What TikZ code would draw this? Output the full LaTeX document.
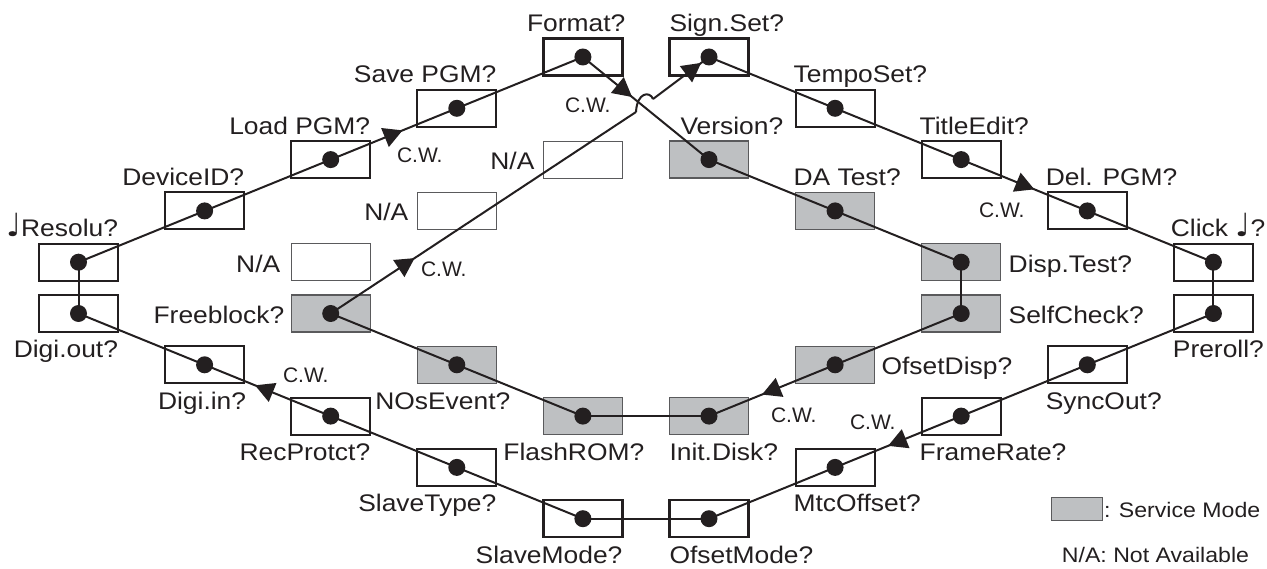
\documentclass[tikz,border=0pt]{standalone}
\usepackage{fontspec}
\setmainfont{Liberation Sans}[FakeStretch=1.1]
\newfontfamily\cwfont{Liberation Sans}
\newfontfamily\notefont{DejaVu Sans}
\usetikzlibrary{arrows.meta,decorations.markings}
\definecolor{svcgray}{RGB}{190,192,194}
\definecolor{ink}{RGB}{35,31,32}
\definecolor{svcedge}{RGB}{90,90,92}
\newcommand{\qnote}{{\notefont\fontsize{32}{32}\selectfont ♩}}
\begin{document}
\begin{tikzpicture}[x=1pt,y=-1pt,
  nbox/.style={draw=ink, line width=2.2pt, minimum width=79pt, minimum height=37pt, inner sep=0pt, outer sep=0pt},
  svc/.style={draw=svcedge, fill=svcgray, line width=1.3pt, minimum width=79pt, minimum height=37pt, inner sep=0pt, outer sep=0pt},
  nabox/.style={draw=svcedge, line width=1pt, minimum width=79pt, minimum height=37pt, inner sep=0pt, outer sep=0pt},
  lbl/.style={inner sep=0pt, outer sep=0pt, text=ink, font=\fontsize{24}{28}\selectfont},
  cw/.style={inner sep=0pt, outer sep=0pt, text=ink, anchor=base west, font=\cwfont\fontsize{21}{24}\selectfont},
  leg/.style={inner sep=0pt, outer sep=0pt, text=ink, font=\fontsize{21}{24}\selectfont},
  conn/.style={draw=ink, line width=2pt},
  arr/.style={postaction={decorate}, decoration={markings, mark=at position #1 with {\arrow{Triangle[length=19pt,width=20pt]}}}}
]
\useasboundingbox (0,0) rectangle (1267,569);

% ---------- boxes ----------
\node[nbox] (res)   at (78.5,262.2) {};
\node[nbox] (dout)  at (78.5,313.5) {};
\node[nbox] (dev)   at (204.6,210.9) {};
\node[nbox] (din)   at (204.6,364.8) {};
\node[nbox] (load)  at (330.7,159.6) {};
\node[nabox] (na3)  at (330.7,262.2) {};
\node[svc]  (free)  at (330.7,313.5) {};
\node[nbox] (rec)   at (330.7,416.1) {};
\node[nbox] (save)  at (456.8,108.3) {};
\node[nabox] (na2)  at (456.8,210.9) {};
\node[svc]  (nos)   at (456.8,364.8) {};
\node[nbox] (stype) at (456.8,467.4) {};
\node[nbox] (fmt)   at (582.9,57) {};
\node[nabox] (na1)  at (582.9,159.6) {};
\node[svc]  (flash) at (582.9,416.1) {};
\node[nbox] (smode) at (582.9,518.7) {};
\node[nbox] (sign)  at (709.0,57) {};
\node[svc]  (ver)   at (709.0,159.6) {};
\node[svc]  (init)  at (709.0,416.1) {};
\node[nbox] (omode) at (709.0,518.7) {};
\node[nbox] (tempo) at (835.1,108.3) {};
\node[svc]  (da)    at (835.1,210.9) {};
\node[svc]  (odisp) at (835.1,364.8) {};
\node[nbox] (mtc)   at (835.1,467.4) {};
\node[nbox] (title) at (961.2,159.6) {};
\node[svc]  (disp)  at (961.2,262.2) {};
\node[svc]  (self)  at (961.2,313.5) {};
\node[nbox] (frame) at (961.2,416.1) {};
\node[nbox] (del)   at (1087.3,210.9) {};
\node[nbox] (sync)  at (1087.3,364.8) {};
\node[nbox] (click) at (1213.4,262.2) {};
\node[nbox] (pre)   at (1213.4,313.5) {};

% ---------- labels ----------
% above, right aligned
\node[lbl, anchor=base east] (lres)  at ([yshift=7pt]res.north east) {\qnote Resolu?};
\node[lbl, anchor=base east] (ldev)  at ([yshift=7pt]dev.north east) {DeviceID?};
\node[lbl, anchor=base east] (lload) at ([yshift=7pt]load.north east) {Load PGM?};
\node[lbl, anchor=base east] (lsave) at ([yshift=7pt]save.north east) {Save PGM?};
\node[lbl, anchor=base east] (lfmt)  at ([xshift=3pt,yshift=7pt]fmt.north east) {Format?};
% above, left aligned
\node[lbl, anchor=base west] (lsign)  at ([yshift=7pt]sign.north west) {Sign.Set?};
\node[lbl, anchor=base west] (lver)   at ([xshift=11pt,yshift=7pt]ver.north west) {Version?};
\node[lbl, anchor=base west] (ltempo) at ([xshift=-2pt,yshift=7pt]tempo.north west) {TempoSet?};
\node[lbl, anchor=base west] (lda)    at ([xshift=-2pt,yshift=7pt]da.north west) {DA Test?};
\node[lbl, anchor=base west] (ltitle) at ([xshift=-2pt,yshift=7pt]title.north west) {TitleEdit?};
\node[lbl, anchor=base west] (ldel)   at ([xshift=-2pt,yshift=7pt]del.north west) {Del. PGM?};
\node[lbl, anchor=base west] (lclick) at ([xshift=-3pt,yshift=7pt]click.north west) {Click \qnote?};
% below, right aligned
\node[lbl, anchor=base east] (ldout)  at ([yshift=-26pt]dout.south east) {Digi.out?};
\node[lbl, anchor=base east] (ldin)   at ([xshift=2pt,yshift=-26pt]din.south east) {Digi.in?};
\node[lbl, anchor=base east] (lrec)   at ([yshift=-26pt]rec.south east) {RecProtct?};
\node[lbl, anchor=base east] (lstype) at ([yshift=-26pt]stype.south east) {SlaveType?};
\node[lbl, anchor=base east] (lsmode) at ([yshift=-26pt]smode.south east) {SlaveMode?};
\node[lbl, anchor=base west] (lnos)   at ([xshift=-42pt,yshift=-26pt]nos.south west) {NOsEvent?};
\node[lbl, anchor=base west] (lflash) at ([xshift=-40pt,yshift=-26pt]flash.south west) {FlashROM?};
% below, left aligned
\node[lbl, anchor=base west] (linit)  at ([yshift=-26pt]init.south west) {Init.Disk?};
\node[lbl, anchor=base west] (lomode) at ([yshift=-26pt]omode.south west) {OfsetMode?};
\node[lbl, anchor=base west] (lmtc)   at ([xshift=-2pt,yshift=-26pt]mtc.south west) {MtcOffset?};
\node[lbl, anchor=base west] (lframe) at ([xshift=-2pt,yshift=-26pt]frame.south west) {FrameRate?};
\node[lbl, anchor=base west] (lsync)  at ([xshift=-2pt,yshift=-26pt]sync.south west) {SyncOut?};
\node[lbl, anchor=base west] (lpre)   at ([xshift=-1pt,yshift=-26pt]pre.south west) {Preroll?};
% side labels
\node[lbl, anchor=base east] (lna1) at ([xshift=-9pt,yshift=-10pt]na1.west) {N/A};
\node[lbl, anchor=base east] (lna2) at ([xshift=-9pt,yshift=-10pt]na2.west) {N/A};
\node[lbl, anchor=base east] (lna3) at ([xshift=-11pt,yshift=-10pt]na3.west) {N/A};
\node[lbl, anchor=base east] (lfree) at ([xshift=-7pt,yshift=-10pt]free.west) {Freeblock?};
\node[lbl, anchor=base west] (ldisp) at ([xshift=8pt,yshift=-10pt]disp.east) {Disp.Test?};
\node[lbl, anchor=base west] (lself) at ([xshift=8pt,yshift=-10pt]self.east) {SelfCheck?};
\node[lbl, anchor=base west] (lodisp) at ([xshift=7pt,yshift=-10pt]odisp.east) {OfsetDisp?};

% C.W. labels
\node[cw] (cw1) at (397,163) {C.W.};
\node[cw] (cw2) at (565,113) {C.W.};
\node[cw] (cw3) at (421,277) {C.W.};
\node[cw] (cw4) at (979,218) {C.W.};
\node[cw] (cw5) at (771,422) {C.W.};
\node[cw] (cw6) at (850,429) {C.W.};
\node[cw] (cw7) at (283,382) {C.W.};

% ---------- connectors ----------
\coordinate (h1) at (636,112);
\coordinate (h2) at (653,99);
\draw[conn] (res.center) -- (dev.center);
\draw[conn] (dev.center) -- (load.center);
\draw[conn, arr=0.57] (load.center) -- (save.center);
\draw[conn] (save.center) -- (fmt.center);
\draw[conn, arr=0.39] (fmt.center) -- (ver.center);
\draw[conn] (ver.center) -- (da.center);
\draw[conn] (da.center) -- (disp.center);
\draw[conn] (disp.center) -- (self.center);
\draw[conn] (self.center) -- (odisp.center);
\draw[conn, arr=0.58] (odisp.center) -- (init.center);
\draw[conn] (init.center) -- (flash.center);
\draw[conn] (flash.center) -- (nos.center);
\draw[conn] (nos.center) -- (free.center);
\draw[conn, arr=0.275] (free.center) -- (h1);
\draw[conn] (h1) .. controls (637,92) and (650,91) .. (h2);
\draw[conn, arr=0.86] (h2) -- (sign.center);
\draw[conn] (sign.center) -- (tempo.center);
\draw[conn] (tempo.center) -- (title.center);
\draw[conn, arr=0.58] (title.center) -- (del.center);
\draw[conn] (del.center) -- (click.center);
\draw[conn] (click.center) -- (pre.center);
\draw[conn] (pre.center) -- (sync.center);
\draw[conn] (sync.center) -- (frame.center);
\draw[conn, arr=0.58] (frame.center) -- (mtc.center);
\draw[conn] (mtc.center) -- (omode.center);
\draw[conn] (omode.center) -- (smode.center);
\draw[conn] (smode.center) -- (stype.center);
\draw[conn] (stype.center) -- (rec.center);
\draw[conn, arr=0.6] (rec.center) -- (din.center);
\draw[conn] (din.center) -- (dout.center);
\draw[conn] (dout.center) -- (res.center);

% ---------- dots ----------
\foreach \n in {res,dout,dev,din,load,free,rec,save,nos,stype,fmt,flash,smode,sign,ver,init,omode,tempo,da,odisp,mtc,title,disp,self,frame,del,sync,click,pre}
  \fill[ink] (\n.center) circle[radius=8.5pt];

% ---------- legend ----------
\node[svc, minimum width=51pt, minimum height=23pt] (legbox) at (1077,509) {};
\node[leg, anchor=base west] (legsvc) at (1104,517) {: Service Mode};
\node[leg, anchor=base east] (legna) at (1249,562) {N/A: Not Available};
\end{tikzpicture}
\end{document}
